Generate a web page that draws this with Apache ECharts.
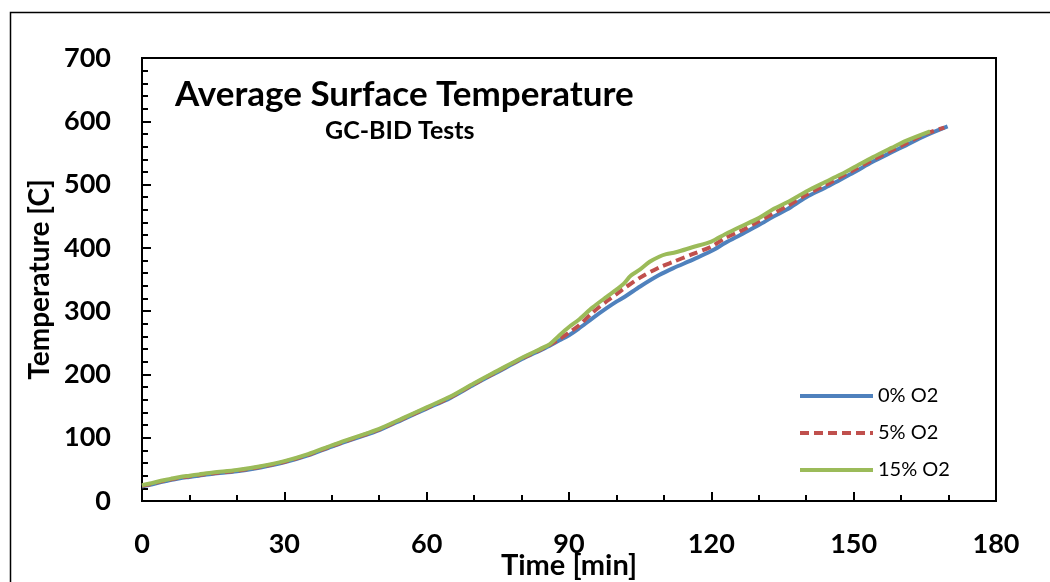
<!DOCTYPE html>
<html>
<head>
<meta charset="utf-8">
<script src="https://cdn.jsdelivr.net/npm/echarts@6/dist/echarts.min.js"></script>
<style>
html,body{margin:0;padding:0;background:#fff;}
#chart{width:1050px;height:582px;}
</style>
</head>
<body>
<div id="chart"></div>
<script>
const seriesNames = ['0% O2', '5% O2', '15% O2'];
const xTicks = [0, 30, 60, 90, 120, 150, 180];
const yTicks = [0, 100, 200, 300, 400, 500, 600, 700];

const timeBlue = [0, 2, 4, 6, 8, 10, 12, 15, 20, 25, 30, 35, 40, 45, 50, 55, 60, 65, 70, 75, 80, 85, 88, 90, 92, 95, 98, 100, 102, 105, 109, 112, 116, 120, 123, 126, 130, 133, 136, 140, 144, 147, 150, 154, 158, 161, 165, 169.8];
const tempBlue = [23, 26, 30, 33, 36, 38, 40, 43, 47, 53, 61, 72, 86, 99, 112, 129, 146, 163, 184, 204, 224, 242, 254, 262, 272, 289, 305, 315, 324, 339, 357, 368, 381, 395, 408, 420, 436, 449, 461, 480, 495, 507, 519, 536, 551, 562, 577, 592];

const timeRed = [0, 2, 4, 6, 8, 10, 12, 15, 20, 25, 30, 35, 40, 45, 50, 55, 60, 65, 70, 75, 80, 85, 88, 90, 92, 95, 98, 100, 102, 105, 109, 112, 116, 120, 123, 126, 130, 133, 136, 140, 144, 147, 150, 154, 158, 161, 165, 169.1];
const tempRed = [24, 27, 31, 34, 37, 39, 41, 44, 48, 54, 62, 73, 87, 100, 113, 130, 147, 164, 185, 205, 225, 243, 256, 266, 277, 298, 316, 327, 338, 353, 369, 378, 390, 402, 416, 426, 442, 454, 466, 484, 499, 511, 523, 539, 554, 565, 580, 590];

const timeGreen = [0, 2, 4, 6, 8, 10, 12, 15, 20, 25, 30, 35, 40, 45, 50, 55, 60, 65, 70, 75, 80, 85, 86, 88, 90, 92, 95, 98, 100, 101.5, 103, 105, 107, 109, 110.5, 112.5, 116, 120, 123, 126, 130, 133, 136, 140, 144, 147, 150, 154, 158, 161, 166.1];
const tempGreen = [25, 28, 32, 35, 38, 40, 42, 45, 49, 55, 63, 74, 88, 101, 114, 131, 148, 165, 186, 206, 226, 244, 248, 262, 275, 286, 306, 323, 334, 343, 356, 366, 378, 386, 390, 393, 401, 410, 422, 433, 447, 461, 472, 489, 504, 515, 527, 543, 558, 569, 584];

function pairs(t, v) { return t.map((x, i) => [x, v[i]]); }

const FONT = 'Lato';
const chart = echarts.init(document.getElementById('chart'), null, {renderer: 'canvas'});
chart.setOption({
  backgroundColor: '#ffffff',
  animation: false,
  grid: {left: 142, top: 58, right: 54, bottom: 81, containLabel: false, outerBoundsMode: 'none',
         show: true, borderColor: '#000', borderWidth: 2, backgroundColor: 'transparent'},
  xAxis: {
    type: 'value', min: xTicks[0], max: xTicks[xTicks.length - 1], interval: 30,
    name: 'Time [min]', nameLocation: 'middle', nameGap: 50, nameMoveOverlap: false,
    nameTextStyle: {fontFamily: FONT, fontWeight: 'bold', fontSize: 29, color: '#000'},
    axisLine: {show: true, lineStyle: {color: '#000', width: 2}},
    axisTick: {show: true, inside: true, length: 9, lineStyle: {color: '#000', width: 2}},
    minorTick: {show: true, splitNumber: 3, length: 6, lineStyle: {color: '#000', width: 2}},
    axisLabel: {fontFamily: FONT, fontWeight: 'bold', fontSize: 27, color: '#000', margin: 30},
    splitLine: {show: false}
  },
  yAxis: {
    type: 'value', min: yTicks[0], max: yTicks[yTicks.length - 1], interval: 100,
    name: 'Temperature [C]', nameLocation: 'middle', nameGap: 88, nameMoveOverlap: false,
    nameTextStyle: {fontFamily: FONT, fontWeight: 'bold', fontSize: 28, color: '#000', padding: [0, 0, 0, 0]},
    axisLine: {show: true, lineStyle: {color: '#000', width: 2}},
    axisTick: {show: true, inside: true, length: 9, lineStyle: {color: '#000', width: 2}},
    minorTick: {show: true, splitNumber: 5, length: 6, lineStyle: {color: '#000', width: 2}},
    axisLabel: {fontFamily: FONT, fontWeight: 'bold', fontSize: 27, color: '#000', margin: 31},
    splitLine: {show: false}
  },
  legend: {
    orient: 'vertical', left: 793, top: 381,
    itemWidth: 73, itemHeight: 14, itemGap: 17,
    itemStyle: {color: 'rgba(0,0,0,0)', borderWidth: 0, opacity: 0},
    lineStyle: {width: 4},
    textStyle: {fontFamily: FONT, fontSize: 20, color: '#000', lineHeight: 20},
    data: seriesNames
  },
  series: [
    {name: seriesNames[0], type: 'line', symbol: 'none', smooth: 0.3, data: pairs(timeBlue, tempBlue),
     lineStyle: {color: '#4F81BD', width: 4}, itemStyle: {color: '#4F81BD'}},
    {name: seriesNames[1], type: 'line', symbol: 'none', smooth: 0.3, data: pairs(timeRed, tempRed),
     lineStyle: {color: '#C0504D', width: 4, type: [9, 5]}, itemStyle: {color: '#C0504D'}},
    {name: seriesNames[2], type: 'line', symbol: 'none', smooth: 0.3, data: pairs(timeGreen, tempGreen),
     lineStyle: {color: '#9BBB59', width: 4}, itemStyle: {color: '#9BBB59'}}
  ],
  graphic: [
    {type: 'rect', left: 8, top: 10, silent: true, z: -1,
     shape: {width: 1100, height: 700}, style: {fill: 'none', stroke: '#000', lineWidth: 1.5}},
    {type: 'text', left: 175, top: 77, style: {text: 'Average Surface Temperature', font: 'bold 35px Lato', fill: '#000'}},
    {type: 'text', left: 325, top: 118, style: {text: 'GC-BID Tests', font: 'bold 25px Lato', fill: '#000'}}
  ]
});
</script>
</body>
</html>
